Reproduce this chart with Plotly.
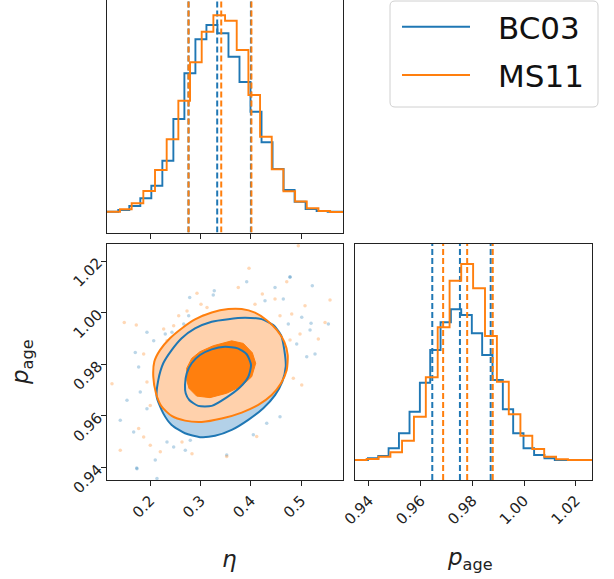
import plotly.graph_objects as go

# ---------------- data ----------------
BLUE = "#1f77b4"
ORANGE = "#ff7f0e"

# 1D histogram of eta (arbitrary density units)
eta_edges_bc03 = [0.0926, 0.1145, 0.1364, 0.1583, 0.1802, 0.2021, 0.2240, 0.2459, 0.2678, 0.2897,
                  0.3116, 0.3335, 0.3554, 0.3773, 0.3992, 0.4211, 0.4430, 0.4649, 0.4868, 0.5087,
                  0.5306, 0.5525, 0.5744, 0.5963]
eta_hist_bc03 = [20.8, 20.8, 22.5, 26.5, 34.2, 46.8, 71.8, 113.5, 159.2, 193.2, 207.5, 199.2,
                 175.8, 150.5, 120.8, 90.2, 63.5, 42.5, 30.8, 23.5, 21.5, 20.8, 20.8]
eta_edges_ms11 = [0.0934, 0.1166, 0.1398, 0.1630, 0.1862, 0.2094, 0.2326, 0.2558, 0.2790, 0.3022,
                  0.3254, 0.3486, 0.3718, 0.3950, 0.4182, 0.4414, 0.4646, 0.4878, 0.5110, 0.5342,
                  0.5574, 0.5806, 0.6038]
eta_hist_ms11 = [20.8, 20.8, 23.2, 29.2, 41.5, 62.5, 93.2, 131.8, 170.2, 200.8, 217.2, 211.8,
                 182.5, 137.5, 95.8, 63.2, 41.2, 31.0, 24.2, 21.5, 20.5, 20.5]

# 1D histogram of p_age
page_edges_bc03 = [0.9316, 0.9356, 0.9396, 0.9436, 0.9476, 0.9516, 0.9557, 0.9597, 0.9637, 0.9677,
                   0.9717, 0.9757, 0.9798, 0.9838, 0.9878, 0.9918, 0.9958, 0.9998, 1.0039, 1.0079,
                   1.0119, 1.0159, 1.0199, 1.0240, 1.0280]
page_hist_bc03 = [20, 20, 21.7, 24, 31.7, 46.7, 68.3, 97.3, 130, 157.7, 170.7, 165, 146.7, 125,
                  100, 70.7, 46.7, 31.7, 25, 21.7, 20, 20, 20, 20]
page_edges_ms11 = [0.9299, 0.9345, 0.9391, 0.9437, 0.9483, 0.9528, 0.9574, 0.9620, 0.9666, 0.9712,
                   0.9757, 0.9803, 0.9849, 0.9895, 0.9941, 0.9986, 1.0032, 1.0078, 1.0124, 1.0170,
                   1.0215, 1.0261, 1.0307]
page_hist_ms11 = [20, 20, 21, 23.3, 27.7, 39.3, 63.3, 102.7, 152.7, 199.3, 216, 191.7, 144, 98.3,
                  65.7, 44.3, 31, 23.3, 20.7, 20, 20, 20]

# quantiles (16, 50, 84 %)
eta_q_bc03 = [0.276, 0.333, 0.400]
eta_q_ms11 = [0.276, 0.341, 0.401]
page_q_bc03 = [0.9645, 0.9752, 0.9871]
page_q_ms11 = [0.9687, 0.9780, 0.9879]

# 2D contours (eta, p_age)
c_out_bc03_eta = [0.2127, 0.2159, 0.2258, 0.2425, 0.2624, 0.2889, 0.3221, 0.3551, 0.3883, 0.4215,
                  0.4445, 0.4598, 0.4664, 0.4692, 0.4624, 0.4479, 0.4246, 0.3948, 0.3618, 0.3286,
                  0.2988, 0.2690, 0.2425, 0.2258]
c_out_bc03_p = [0.9675, 0.9739, 0.9804, 0.9855, 0.9901, 0.9939, 0.9965, 0.9975, 0.9980, 0.9975,
                0.9952, 0.9913, 0.9855, 0.9791, 0.9733, 0.9681, 0.9630, 0.9585, 0.9546, 0.9523,
                0.9518, 0.9533, 0.9565, 0.9610]
c_in_bc03_eta = [0.2690, 0.2724, 0.2823, 0.2988, 0.3221, 0.3485, 0.3738, 0.3916, 0.4002, 0.3948,
                 0.3783, 0.3519, 0.3221, 0.2954, 0.2775, 0.2704]
c_in_bc03_p = [0.9720, 0.9765, 0.9804, 0.9836, 0.9858, 0.9868, 0.9862, 0.9839, 0.9797, 0.9752,
               0.9711, 0.9672, 0.9639, 0.9639, 0.9662, 0.9688]
c_out_ms11_eta = [0.2060, 0.2080, 0.2193, 0.2392, 0.2624, 0.2889, 0.3221, 0.3551, 0.3817, 0.4081,
                  0.4314, 0.4513, 0.4664, 0.4731, 0.4712, 0.4598, 0.4413, 0.4147, 0.3817, 0.3419,
                  0.3022, 0.2690, 0.2425, 0.2227, 0.2113]
c_out_ms11_p = [0.9752, 0.9810, 0.9855, 0.9901, 0.9939, 0.9974, 1.0001, 1.0014, 1.0014, 1.0000,
                0.9971, 0.9933, 0.9887, 0.9836, 0.9778, 0.9727, 0.9681, 0.9643, 0.9613, 0.9590,
                0.9577, 0.9582, 0.9600, 0.9636, 0.9688]
c_in_ms11_eta = [0.2724, 0.2724, 0.2823, 0.2988, 0.3252, 0.3618, 0.3849, 0.4028, 0.4095, 0.4016,
                 0.3817, 0.3519, 0.3187, 0.2922, 0.2769]
c_in_ms11_p = [0.9739, 0.9785, 0.9823, 0.9849, 0.9872, 0.9891, 0.9881, 0.9845, 0.9804, 0.9752,
               0.9716, 0.9688, 0.9671, 0.9677, 0.9707]

# outlying samples
pts_ms11_eta = [0.1483, 0.1722, 0.2928, 0.3008, 0.2565, 0.2465, 0.2266, 0.2730, 0.3127, 0.3062,
                0.2332, 0.1869, 0.3962, 0.3749, 0.4227, 0.4479, 0.4081, 0.4578, 0.5075, 0.4811,
                0.5340, 0.5473, 0.4976, 0.4942, 0.1239, 0.1934, 0.2000, 0.1769, 0.1869, 0.1404,
                0.2199, 0.2630, 0.2829, 0.2000, 0.5010, 0.4843, 0.4115, 0.3519, 0.5572, 0.4777,
                0.4712]
pts_ms11_p = [0.9962, 0.9952, 1.0075, 1.0033, 0.9988, 0.9949, 0.9937, 1.0007, 1.0020, 0.9988,
              0.9891, 0.9840, 1.0172, 1.0098, 1.0072, 1.0053, 1.0033, 0.9988, 1.0027, 0.9995,
              0.9898, 0.9962, 0.9917, 1.0259, 0.9725, 0.9732, 0.9641, 0.9551, 0.9519, 0.9467,
              0.9461, 0.9499, 0.9454, 0.9487, 0.9720, 0.9746, 0.9520, 0.9443, 1.0049, 0.9894,
              1.0120]
pts_bc03_eta = [0.3272, 0.2783, 0.2763, 0.2298, 0.2431, 0.2497, 0.2068, 0.1934, 0.1702, 0.3260,
                0.2664, 0.4777, 0.5220, 0.4644, 0.5010, 0.4743, 0.5195, 0.4910, 0.5274, 0.4280,
                0.4479, 0.5539, 0.1769, 0.1801, 0.1934, 0.1537, 0.1404, 0.1670, 0.2099, 0.1736,
                0.2133, 0.2332, 0.2696, 0.2795, 0.2465, 0.4777, 0.4048, 0.4578, 0.4314, 0.5175,
                0.5109, 0.1730, 0.3519, 0.3916, 0.3252]
pts_bc03_p = [1.0085, 1.0059, 0.9988, 0.9917, 0.9924, 0.9898, 0.9891, 0.9924, 0.9846, 0.9982,
              0.9956, 1.0137, 1.0104, 1.0053, 0.9982, 0.9956, 0.9959, 0.9879, 0.9840, 1.0046,
              1.0098, 0.9956, 0.9790, 0.9693, 0.9628, 0.9661, 0.9583, 0.9538, 0.9429, 0.9396,
              0.9358, 0.9499, 0.9467, 0.9506, 0.9480, 1.0139, 0.9527, 0.9597, 0.9572, 0.9933,
              0.9829, 0.9398, 0.9449, 1.0120, 1.0068]

eta_ticks = [0.2, 0.3, 0.4, 0.5]
eta_ticktext = ["0.2", "0.3", "0.4", "0.5"]
page_ticks = [0.94, 0.96, 0.98, 1.00, 1.02]
page_ticktext = ["0.94", "0.96", "0.98", "1.00", "1.02"]
series_names = ["BC03", "MS11"]

# ---------------- figure ----------------
W, H = 614, 579
FONT = "DejaVu Sans"


def px(x):
    return x / W


def py(y):
    return 1 - y / H


fig = go.Figure()


def hist_trace(edges, counts, color, xa, ya):
    return go.Scatter(x=edges, y=list(counts) + [counts[-1]], mode="lines",
                      line=dict(color=color, width=1.9, shape="hv"),
                      xaxis=xa, yaxis=ya, showlegend=False, hoverinfo="skip")


def qlines(qs, color, ymax, xa, ya):
    out = []
    for q in qs:
        out.append(go.Scatter(x=[q, q], y=[0, ymax], mode="lines",
                              line=dict(color=color, width=2, dash="6px,3px"),
                              xaxis=xa, yaxis=ya, showlegend=False, hoverinfo="skip"))
    return out


TOP_MAX = 232.5
RIGHT_MAX = 236

# top panel: eta
fig.add_trace(hist_trace(eta_edges_bc03, eta_hist_bc03, BLUE, "x", "y"))
for t in qlines(eta_q_bc03, BLUE, TOP_MAX, "x", "y"):
    fig.add_trace(t)
fig.add_trace(hist_trace(eta_edges_ms11, eta_hist_ms11, ORANGE, "x", "y"))
for t in qlines(eta_q_ms11, ORANGE, TOP_MAX, "x", "y"):
    fig.add_trace(t)

# right panel: p_age
fig.add_trace(hist_trace(page_edges_bc03, page_hist_bc03, BLUE, "x3", "y3"))
for t in qlines(page_q_bc03, BLUE, RIGHT_MAX, "x3", "y3"):
    fig.add_trace(t)
fig.add_trace(hist_trace(page_edges_ms11, page_hist_ms11, ORANGE, "x3", "y3"))
for t in qlines(page_q_ms11, ORANGE, RIGHT_MAX, "x3", "y3"):
    fig.add_trace(t)

# 2D panel
fig.add_trace(go.Scatter(x=pts_bc03_eta, y=pts_bc03_p, mode="markers",
                         marker=dict(color=BLUE, size=3.5, opacity=0.3),
                         xaxis="x2", yaxis="y2", showlegend=False, hoverinfo="skip"))
fig.add_trace(go.Scatter(x=pts_ms11_eta, y=pts_ms11_p, mode="markers",
                         marker=dict(color=ORANGE, size=3.5, opacity=0.3),
                         xaxis="x2", yaxis="y2", showlegend=False, hoverinfo="skip"))


def closed(a):
    return list(a) + [a[0]]


def fill_trace(xs, ys, fillcolor, linecolor=None, width=0):
    return go.Scatter(x=closed(xs), y=closed(ys), mode="lines", fill="toself",
                      fillcolor=fillcolor,
                      line=dict(color=linecolor or fillcolor, width=width, shape="spline", smoothing=0.6),
                      xaxis="x2", yaxis="y2", showlegend=False, hoverinfo="skip")


def line_trace(xs, ys, color):
    return go.Scatter(x=closed(xs), y=closed(ys), mode="lines",
                      line=dict(color=color, width=2, shape="spline", smoothing=0.6),
                      xaxis="x2", yaxis="y2", showlegend=False, hoverinfo="skip")


fig.add_trace(fill_trace(c_out_bc03_eta, c_out_bc03_p, "#b3d1e8"))
fig.add_trace(fill_trace(c_out_ms11_eta, c_out_ms11_p, "#ffd1ac"))
fig.add_trace(go.Scatter(x=closed(c_in_ms11_eta), y=closed(c_in_ms11_p), mode="lines", fill="toself",
                         fillcolor=ORANGE, line=dict(color=ORANGE, width=1),
                         xaxis="x2", yaxis="y2", showlegend=False, hoverinfo="skip"))
fig.add_trace(line_trace(c_out_bc03_eta, c_out_bc03_p, BLUE))
fig.add_trace(line_trace(c_in_bc03_eta, c_in_bc03_p, BLUE))
fig.add_trace(line_trace(c_out_ms11_eta, c_out_ms11_p, ORANGE))

# ---------------- axes ----------------
common = dict(showline=True, mirror=True, linecolor="#222222", linewidth=1.1, showgrid=False,
              zeroline=False, ticks="outside", ticklen=5, tickwidth=1.1, tickcolor="#222222",
              automargin=False,
              tickfont=dict(family=FONT, size=15, color="#222222"))

X0, X1 = px(107), px(343)
X2, X3 = px(355), px(592)
YB0, YB1 = py(480), py(244)
YT0 = py(232.5)

fig.update_layout(
    width=W, height=H, margin=dict(l=0, r=0, t=0, b=0, autoexpand=False),
    paper_bgcolor="white", plot_bgcolor="white",
    font=dict(family=FONT, color="#222222"),
    showlegend=False,
    xaxis=dict(common, domain=[X0, X1], range=[0.114, 0.583], anchor="y", mirror=False,
               tickvals=eta_ticks, showticklabels=False),
    yaxis=dict(common, domain=[YT0, 1.0], range=[0, TOP_MAX], anchor="x",
               showticklabels=False, ticks=""),
    xaxis2=dict(common, domain=[X0, X1], range=[0.114, 0.583], anchor="y2",
                tickvals=eta_ticks, ticktext=eta_ticktext, tickangle=-45),
    yaxis2=dict(common, domain=[YB0, YB1], range=[0.9352, 1.0266], anchor="x2",
                tickvals=page_ticks, ticktext=page_ticktext, tickangle=-45),
    xaxis3=dict(common, domain=[X2, X3], range=[0.9346, 1.0263], anchor="y3",
                tickvals=page_ticks, ticktext=page_ticktext, tickangle=-45),
    yaxis3=dict(common, domain=[YB0, YB1], range=[0, RIGHT_MAX], anchor="x3",
                showticklabels=False, ticks=""),
)

# axis titles
ptitle = "<i>p</i><sub>age</sub>"
fig.add_annotation(x=px(229), y=py(574), xref="paper", yref="paper", text="<i>η</i>",
                   showarrow=False, font=dict(family=FONT, size=23, color="#222222"))
fig.add_annotation(x=px(5), y=py(362), xref="paper", yref="paper", text=ptitle, textangle=-90,
                   showarrow=False, font=dict(family=FONT, size=23, color="#222222"))
fig.add_annotation(x=px(495), y=py(576), xref="paper", yref="paper", text=ptitle,
                   showarrow=False, font=dict(family=FONT, size=23, color="#222222"))

# legend (drawn manually)
lx0, lx1, ly0, ly1, r = 390, 598, 1, 107, 5
path = (f"M {px(lx0 + r)},{py(ly0)} L {px(lx1 - r)},{py(ly0)} Q {px(lx1)},{py(ly0)} {px(lx1)},{py(ly0 + r)} "
        f"L {px(lx1)},{py(ly1 - r)} Q {px(lx1)},{py(ly1)} {px(lx1 - r)},{py(ly1)} "
        f"L {px(lx0 + r)},{py(ly1)} Q {px(lx0)},{py(ly1)} {px(lx0)},{py(ly1 - r)} "
        f"L {px(lx0)},{py(ly0 + r)} Q {px(lx0)},{py(ly0)} {px(lx0 + r)},{py(ly0)} Z")
fig.add_shape(type="path", path=path, xref="paper", yref="paper",
              line=dict(color="#d0d0d0", width=1), fillcolor="rgba(255,255,255,0.8)")
for name, color, yy in zip(series_names, [BLUE, ORANGE], [26.7, 75]):
    fig.add_shape(type="line", xref="paper", yref="paper", x0=px(402), x1=px(470), y0=py(yy), y1=py(yy),
                  line=dict(color=color, width=2))
    fig.add_annotation(x=px(496), y=py(yy + 1), xref="paper", yref="paper", text=name,
                       xanchor="left", yanchor="middle", showarrow=False,
                       font=dict(family=FONT, size=31, color="#111111"))

fig.write_html("out.html")
